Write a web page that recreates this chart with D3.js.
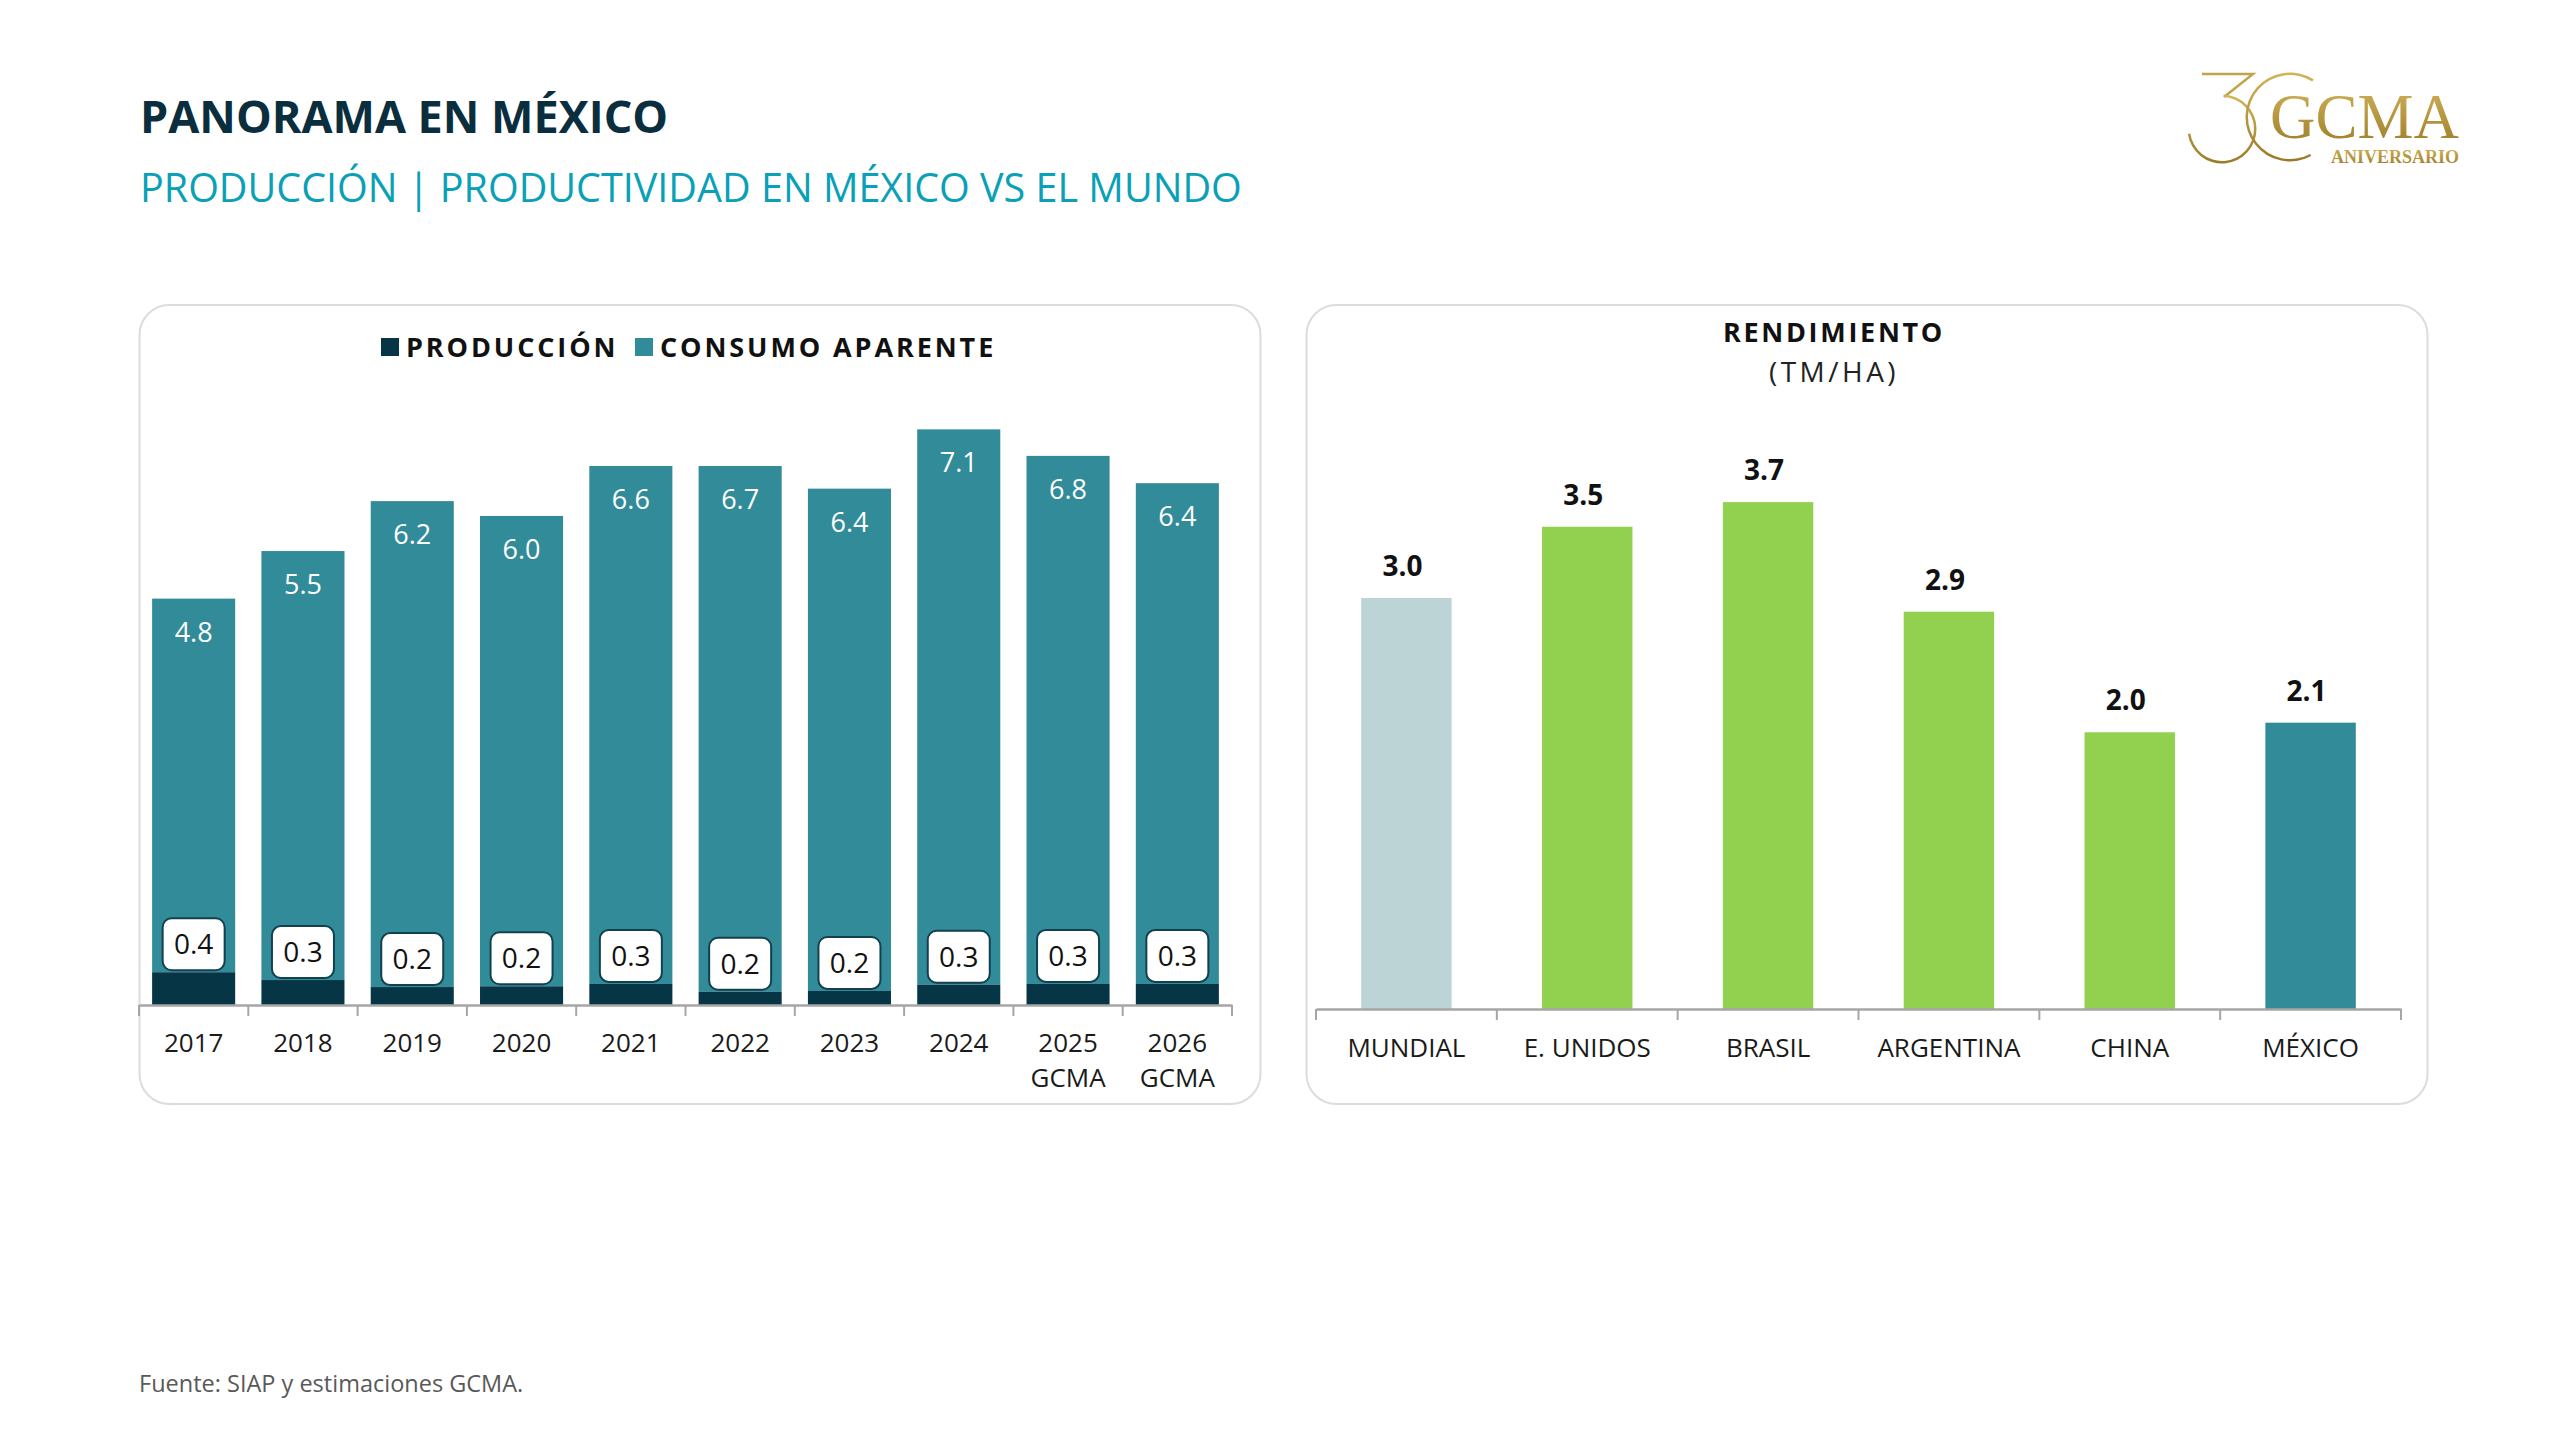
<!DOCTYPE html>
<html>
<head>
<meta charset="utf-8">
<script src="https://cdn.jsdelivr.net/npm/d3@7"></script>
<style>
  body { margin: 0; background: #fff; }
  text { font-family: "Open Sans", "Noto Sans", sans-serif; }
</style>
</head>
<body>
<div id="chart"></div>
<script>
// left chart: Mexico production vs apparent consumption (million t)
const years = [["2017"], ["2018"], ["2019"], ["2020"], ["2021"], ["2022"], ["2023"], ["2024"], ["2025", "GCMA"], ["2026", "GCMA"]];
const produccion = [0.42, 0.32, 0.23, 0.24, 0.27, 0.17, 0.18, 0.26, 0.27, 0.27];
const consumo = [4.79, 5.5, 6.23, 6.03, 6.64, 6.74, 6.44, 7.12, 6.77, 6.42];

// right chart: yield (t/ha)
const paises = ["MUNDIAL", "E. UNIDOS", "BRASIL", "ARGENTINA", "CHINA", "MÉXICO"];
const rendimiento = [3.0, 3.52, 3.7, 2.9, 2.02, 2.09];

const W = 2560, H = 1440;
const dark = "#063646", teal = "#328b99", green = "#92d050", grey = "#bcd4d5";
const fmt = d3.format(".1f");

const svg = d3.select("#chart").append("svg")
  .attr("width", W)
  .attr("height", H);

// header
svg.append("text")
  .attr("x", 140).attr("y", 133)
  .attr("font-size", 45).attr("font-weight", 700)
  .attr("fill", "#0b2e3e")
  .text("PANORAMA EN MÉXICO");

svg.append("text")
  .attr("x", 140).attr("y", 202)
  .attr("font-size", 39.5)
  .attr("fill", "#0aa0b7")
  .text("PRODUCCIÓN | PRODUCTIVIDAD EN MÉXICO VS EL MUNDO");

svg.append("text")
  .attr("x", 139).attr("y", 1392)
  .attr("font-size", 23.5)
  .attr("fill", "#595959")
  .text("Fuente: SIAP y estimaciones GCMA.");

// logo
const gold = svg.append("defs").append("linearGradient")
  .attr("id", "gold").attr("x1", 0).attr("y1", 0).attr("x2", 0).attr("y2", 1);
gold.append("stop").attr("offset", "0%").attr("stop-color", "#d2b45a");
gold.append("stop").attr("offset", "100%").attr("stop-color", "#9a7a26");

const logo = svg.append("g");
logo.append("path")
  .attr("d", "M2202,74 L2253,74 L2224,97")
  .attr("fill", "none").attr("stroke", "#c2a349").attr("stroke-width", 2.5);
logo.append("path")
  .attr("transform", "translate(2222,129)")
  .attr("d", d3.arc().innerRadius(32).outerRadius(34.5).startAngle(0.05).endAngle(4.57)())
  .attr("fill", "url(#gold)");
logo.append("path")
  .attr("transform", "translate(2290,117)")
  .attr("d", d3.arc().innerRadius(42).outerRadius(44.5).startAngle(-3.64).endAngle(0.56)())
  .attr("fill", "url(#gold)");
logo.append("text")
  .attr("x", 2270).attr("y", 138)
  .attr("font-size", 63)
  .attr("fill", "url(#gold)")
  .style("font-family", "'Liberation Serif', serif")
  .text("GCMA");
logo.append("text")
  .attr("x", 2459).attr("y", 163).attr("text-anchor", "end")
  .attr("font-size", 18).attr("font-weight", 700)
  .attr("fill", "url(#gold)")
  .style("font-family", "'Liberation Serif', serif")
  .text("ANIVERSARIO");

// cards
[[139.5, 1121], [1306.5, 1121]].forEach(([cx, cw]) => {
  svg.append("rect")
    .attr("x", cx).attr("y", 305)
    .attr("width", cw).attr("height", 799)
    .attr("rx", 30)
    .attr("fill", "#fff")
    .attr("stroke", "#dcdcdc")
    .attr("stroke-width", 2);
});

// ---------- left chart ----------
const x = d3.scaleBand()
  .domain(d3.range(years.length))
  .range([139, 1232])
  .paddingInner(0.24)
  .paddingOuter(0.12);

const y = d3.scaleLinear().domain([0, 8]).range([1005, 381]);

const left = svg.append("g");

left.selectAll("rect.cons")
  .data(consumo)
  .join("rect")
  .attr("class", "cons")
  .attr("x", (d, i) => x(i))
  .attr("y", (d, i) => y(produccion[i] + d))
  .attr("width", x.bandwidth())
  .attr("height", (d, i) => y(produccion[i]) - y(produccion[i] + d))
  .attr("fill", teal);

left.selectAll("rect.prod")
  .data(produccion)
  .join("rect")
  .attr("class", "prod")
  .attr("x", (d, i) => x(i))
  .attr("y", (d) => y(d))
  .attr("width", x.bandwidth())
  .attr("height", (d) => y(0) - y(d))
  .attr("fill", dark);

left.selectAll("text.cons")
  .data(consumo)
  .join("text")
  .attr("class", "cons")
  .attr("x", (d, i) => x(i) + x.bandwidth() / 2)
  .attr("y", (d, i) => y(produccion[i] + d) + 43)
  .attr("text-anchor", "middle")
  .attr("font-size", 27)
  .attr("fill", "#fff")
  .text((d) => fmt(d));

const boxes = left.selectAll("g.box")
  .data(produccion)
  .join("g")
  .attr("class", "box")
  .attr("transform", (d, i) => `translate(${x(i) + x.bandwidth() / 2},${y(d) - 28})`);

boxes.append("rect")
  .attr("x", -31).attr("y", -26)
  .attr("width", 62).attr("height", 52)
  .attr("rx", 9)
  .attr("fill", "#fff")
  .attr("stroke", "#12404f")
  .attr("stroke-width", 2);

boxes.append("text")
  .attr("y", 10)
  .attr("text-anchor", "middle")
  .attr("font-size", 28)
  .attr("fill", "#111")
  .text((d) => fmt(d));

// x axis
const xAxis = left.append("g")
  .attr("transform", `translate(0,${y(0)})`)
  .call(d3.axisBottom(x).tickSize(0).tickFormat(""));
xAxis.select(".domain").attr("stroke", "#a6a6a6").attr("stroke-width", 2.5);

left.selectAll("line.tick")
  .data(d3.range(years.length + 1))
  .join("line")
  .attr("class", "tick")
  .attr("x1", (d) => 139 + d * x.step())
  .attr("x2", (d) => 139 + d * x.step())
  .attr("y1", y(0))
  .attr("y2", y(0) + 11)
  .attr("stroke", "#a6a6a6")
  .attr("stroke-width", 2);

left.selectAll("text.year")
  .data(years)
  .join("text")
  .attr("class", "year")
  .attr("x", (d, i) => x(i) + x.bandwidth() / 2)
  .attr("y", 1052)
  .attr("text-anchor", "middle")
  .attr("font-size", 26)
  .attr("fill", "#1a1a1a")
  .selectAll("tspan")
  .data((d) => d)
  .join("tspan")
  .attr("x", function () { return this.parentNode.getAttribute("x"); })
  .attr("dy", (d, j) => (j === 0 ? 0 : 35))
  .text((d) => d);

// legend
const legend = [
  { name: "PRODUCCIÓN", color: dark, x: 381 },
  { name: "CONSUMO APARENTE", color: teal, x: 635 }
];
legend.forEach((l) => {
  svg.append("rect")
    .attr("x", l.x).attr("y", 338)
    .attr("width", 18).attr("height", 18)
    .attr("fill", l.color);
  svg.append("text")
    .attr("x", l.x + 25).attr("y", 357)
    .attr("font-size", 27).attr("font-weight", 700)
    .attr("letter-spacing", 2.9)
    .attr("fill", "#111")
    .text(l.name);
});

// ---------- right chart ----------
const x2 = d3.scaleBand()
  .domain(paises)
  .range([1316, 2401])
  .paddingInner(0.5)
  .paddingOuter(0.25);

const y2 = d3.scaleLinear().domain([0, 4]).range([1009, 461]);

const right = svg.append("g");

svg.append("text")
  .attr("x", 1834).attr("y", 342)
  .attr("text-anchor", "middle")
  .attr("font-size", 27).attr("font-weight", 700)
  .attr("letter-spacing", 2.7)
  .attr("fill", "#111")
  .text("RENDIMIENTO");

svg.append("text")
  .attr("x", 1834).attr("y", 382)
  .attr("text-anchor", "middle")
  .attr("font-size", 28)
  .attr("letter-spacing", 3.5)
  .attr("fill", "#222")
  .text("(TM/HA)");

right.selectAll("rect")
  .data(rendimiento)
  .join("rect")
  .attr("x", (d, i) => x2(paises[i]))
  .attr("y", (d) => y2(d))
  .attr("width", x2.bandwidth())
  .attr("height", (d) => y2(0) - y2(d))
  .attr("fill", (d, i) => (paises[i] === "MUNDIAL" ? grey : paises[i] === "MÉXICO" ? teal : green));

right.selectAll("text.val")
  .data(rendimiento)
  .join("text")
  .attr("class", "val")
  .attr("x", (d, i) => x2(paises[i]) + x2.bandwidth() / 2 - 4)
  .attr("y", (d) => y2(d) - 22)
  .attr("text-anchor", "middle")
  .attr("font-size", 28).attr("font-weight", 700)
  .attr("fill", "#111")
  .text((d) => fmt(d));

const xAxis2 = right.append("g")
  .attr("transform", `translate(0,${y2(0)})`)
  .call(d3.axisBottom(x2).tickSize(0).tickPadding(30));
xAxis2.select(".domain").attr("stroke", "#a6a6a6").attr("stroke-width", 2.5);
xAxis2.selectAll(".tick text")
  .attr("font-size", 26)
  .attr("fill", "#1a1a1a")
  .style("font-family", "'Open Sans', sans-serif");

right.selectAll("line.tick")
  .data(d3.range(paises.length + 1))
  .join("line")
  .attr("class", "tick")
  .attr("x1", (d) => 1316 + d * x2.step())
  .attr("x2", (d) => 1316 + d * x2.step())
  .attr("y1", y2(0))
  .attr("y2", y2(0) + 11)
  .attr("stroke", "#a6a6a6")
  .attr("stroke-width", 2);
</script>
</body>
</html>
